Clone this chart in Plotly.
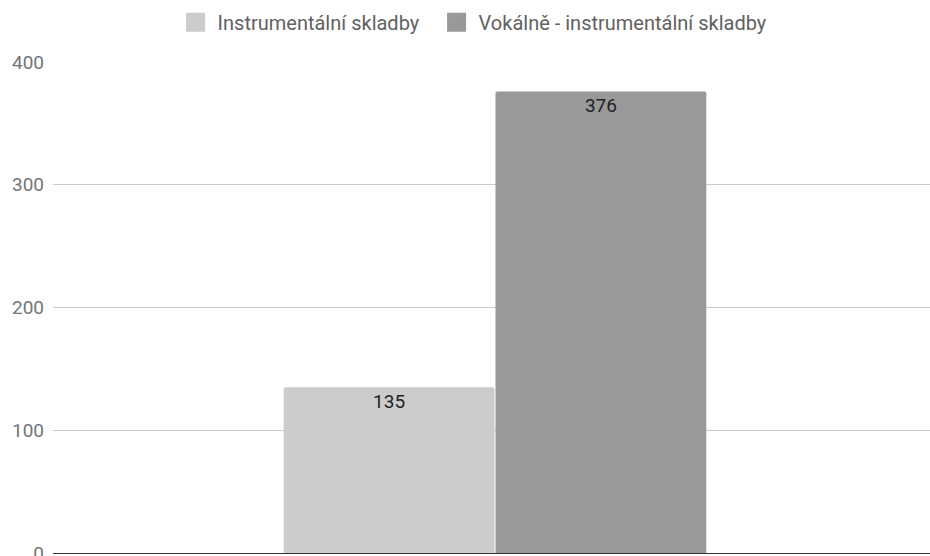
import plotly.graph_objects as go

categories = [""]
series_names = ["Instrumentální skladby", "Vokálně - instrumentální skladby"]
instrumental = [135]
vocal = [376]
colors = ["#cccccc", "#999999"]
y_ticks = [0, 100, 200, 300, 400]

fig = go.Figure()
for name, vals, col in zip(series_names, [instrumental, vocal], colors):
    fig.add_trace(go.Bar(
        x=categories, y=vals, name=name, showlegend=False,
        marker=dict(color=col, line=dict(width=0), cornerradius=2),
        text=[str(v) for v in vals], textposition="inside",
        insidetextanchor="end",
        textfont=dict(family="Roboto", size=19, color="#222222"),
    ))
# legend entries with larger square swatches
legend_widths = [212, None]
for name, col, lw in zip(series_names, colors, legend_widths):
    fig.add_trace(go.Scatter(
        x=[None], y=[None], mode="markers", name=name, legendwidth=lw,
        marker=dict(symbol="square", size=16, color=col, line=dict(color=col, width=3)),
    ))

fig.update_layout(
    width=930, height=556,
    margin=dict(l=53, r=0, t=62, b=3, autoexpand=False),
    paper_bgcolor="white", plot_bgcolor="white",
    barmode="group", bargap=0.513, bargroupgap=0.005,
    font=dict(family="Roboto", size=20, color="#616161"),
    legend=dict(orientation="h", x=0.1375, xanchor="left", yref="container",
                y=0.96, yanchor="middle", itemsizing="trace", itemwidth=34,
                font=dict(size=20, color="#616161"), traceorder="normal"),
    showlegend=True,
    xaxis=dict(range=[-0.508, 0.5], showticklabels=False, showgrid=False,
               zeroline=False, showline=False, fixedrange=True),
    yaxis=dict(range=[0, 400], tickvals=y_ticks, showgrid=True, gridcolor="#cccccc",
               gridwidth=1, zeroline=True, zerolinecolor="#333333", zerolinewidth=1,
               tickfont=dict(size=19, color="#757575"), ticklabelstandoff=8,
               ticklabeloverflow="allow"),
)

fig.write_html("out.html")
